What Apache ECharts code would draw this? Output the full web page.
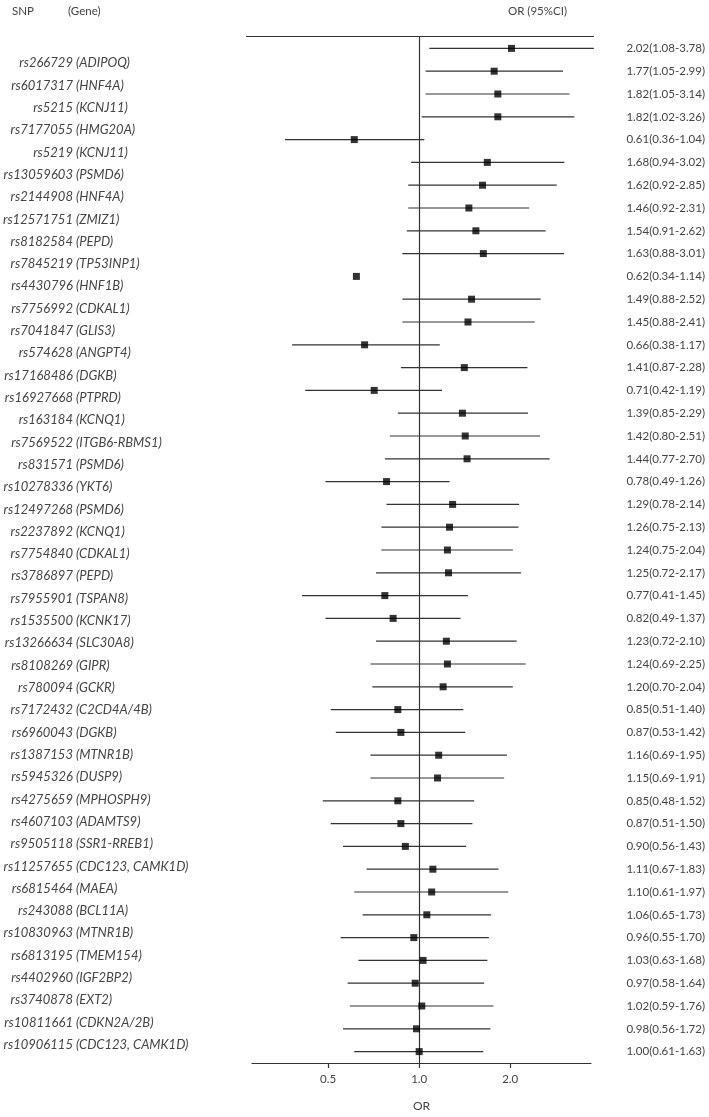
<!DOCTYPE html>
<html>
<head>
<meta charset="utf-8">
<title>SNP forest plot</title>
<script src="https://cdn.jsdelivr.net/npm/echarts@6/dist/echarts.min.js"></script>
<style>
  html, body { margin: 0; padding: 0; background: #fff; }
  #chart { width: 709px; height: 1117px; }
</style>
</head>
<body>
<div id="chart"></div>
<script>
  // rows, top to bottom
  const snpIds = [
    'rs266729', 'rs6017317', 'rs5215', 'rs7177055', 'rs5219', 'rs13059603', 'rs2144908', 'rs12571751',
    'rs8182584', 'rs7845219', 'rs4430796', 'rs7756992', 'rs7041847', 'rs574628', 'rs17168486', 'rs16927668',
    'rs163184', 'rs7569522', 'rs831571', 'rs10278336', 'rs12497268', 'rs2237892', 'rs7754840', 'rs3786897',
    'rs7955901', 'rs1535500', 'rs13266634', 'rs8108269', 'rs780094', 'rs7172432', 'rs6960043', 'rs1387153',
    'rs5945326', 'rs4275659', 'rs4607103', 'rs9505118', 'rs11257655', 'rs6815464', 'rs243088', 'rs10830963',
    'rs6813195', 'rs4402960', 'rs3740878', 'rs10811661', 'rs10906115'
  ]
  const genes = [
    'ADIPOQ', 'HNF4A', 'KCNJ11', 'HMG20A', 'KCNJ11', 'PSMD6', 'HNF4A', 'ZMIZ1',
    'PEPD', 'TP53INP1', 'HNF1B', 'CDKAL1', 'GLIS3', 'ANGPT4', 'DGKB', 'PTPRD',
    'KCNQ1', 'ITGB6-RBMS1', 'PSMD6', 'YKT6', 'PSMD6', 'KCNQ1', 'CDKAL1', 'PEPD',
    'TSPAN8', 'KCNK17', 'SLC30A8', 'GIPR', 'GCKR', 'C2CD4A/4B', 'DGKB', 'MTNR1B',
    'DUSP9', 'MPHOSPH9', 'ADAMTS9', 'SSR1-RREB1', 'CDC123, CAMK1D', 'MAEA', 'BCL11A', 'MTNR1B',
    'TMEM154', 'IGF2BP2', 'EXT2', 'CDKN2A/2B', 'CDC123, CAMK1D'
  ]
  const orValues = [
    2.02, 1.77, 1.82, 1.82, 0.61, 1.68, 1.62, 1.46,
    1.54, 1.63, 0.62, 1.49, 1.45, 0.66, 1.41, 0.71,
    1.39, 1.42, 1.44, 0.78, 1.29, 1.26, 1.24, 1.25,
    0.77, 0.82, 1.23, 1.24, 1.20, 0.85, 0.87, 1.16,
    1.15, 0.85, 0.87, 0.90, 1.11, 1.10, 1.06, 0.96,
    1.03, 0.97, 1.02, 0.98, 1.00
  ]
  const ciLow = [
    1.08, 1.05, 1.05, 1.02, 0.36, 0.94, 0.92, 0.92,
    0.91, 0.88, 0.34, 0.88, 0.88, 0.38, 0.87, 0.42,
    0.85, 0.80, 0.77, 0.49, 0.78, 0.75, 0.75, 0.72,
    0.41, 0.49, 0.72, 0.69, 0.70, 0.51, 0.53, 0.69,
    0.69, 0.48, 0.51, 0.56, 0.67, 0.61, 0.65, 0.55,
    0.63, 0.58, 0.59, 0.56, 0.61
  ]
  const ciHigh = [
    3.78, 2.99, 3.14, 3.26, 1.04, 3.02, 2.85, 2.31,
    2.62, 3.01, 1.14, 2.52, 2.41, 1.17, 2.28, 1.19,
    2.29, 2.51, 2.70, 1.26, 2.14, 2.13, 2.04, 2.17,
    1.45, 1.37, 2.10, 2.25, 2.04, 1.40, 1.42, 1.95,
    1.91, 1.52, 1.50, 1.43, 1.83, 1.97, 1.73, 1.70,
    1.68, 1.64, 1.76, 1.72, 1.63
  ]
  // the original figure draws no whisker for this row
  const noWhisker = ['rs4430796']
  const xTicks = [0.5, 1.0, 2.0]

  const chart = echarts.init(document.getElementById('chart'))
  const textColor = '#444'
  const lineColor = '#333'
  const fontFamily = 'Lato, "Open Sans", sans-serif'

  const orLabels = orValues.map((v, i) => `${v.toFixed(2)}(${ciLow[i].toFixed(2)}-${ciHigh[i].toFixed(2)})`)
  const whiskerData = []
  snpIds.forEach((id, i) => {
    if (noWhisker.indexOf(id) < 0) whiskerData.push([ciLow[i], ciHigh[i], i])
  })

  const hiddenCat = {
    axisLine: { show: false },
    axisTick: { show: false },
    splitLine: { show: false }
  }

  const option = {
    animation: false,
    backgroundColor: '#fff',
    textStyle: { fontFamily: fontFamily, color: textColor },
    grid: [
      { left: 252, right: 118, top: 37, height: 1035 },
      // label column on the left
      { left: 70, width: 60, top: 52, height: 1004 }
    ],
    xAxis: [
      {
        type: 'log',
        logBase: 2,
        gridIndex: 0,
        min: 0.28,
        max: 3.7,
        name: 'OR',
        nameLocation: 'middle',
        nameGap: 37,
        nameTextStyle: { fontSize: 12, color: textColor },
        axisLine: { show: true, onZero: false, lineStyle: { color: lineColor, width: 1.2 } },
        axisTick: { show: true, customValues: xTicks, length: 5, lineStyle: { color: lineColor, width: 1.2 } },
        axisLabel: {
          customValues: xTicks,
          formatter: v => Number(v).toFixed(1),
          margin: 10,
          fontSize: 11.5,
          color: textColor
        },
        splitLine: { show: false },
        minorTick: { show: false }
      },
      { type: 'value', gridIndex: 1, show: false }
    ],
    yAxis: [
      Object.assign({ type: 'category', gridIndex: 0, data: snpIds, inverse: true, axisLabel: { show: false } }, hiddenCat),
      Object.assign({
        type: 'category', gridIndex: 0, position: 'right', data: orLabels, inverse: true,
        axisLabel: { interval: 0, margin: 114, align: 'right', fontSize: 11.5, color: textColor }
      }, hiddenCat),
      Object.assign({
        type: 'category', gridIndex: 1, position: 'left', data: snpIds, inverse: true,
        axisLabel: { interval: 0, margin: 0, fontSize: 13, fontStyle: 'italic', color: textColor }
      }, hiddenCat),
      Object.assign({
        type: 'category', gridIndex: 1, position: 'left', data: genes.map(g => '(' + g + ')'), inverse: true,
        axisLabel: { interval: 0, inside: true, margin: 3, fontSize: 13, fontStyle: 'italic', color: textColor }
      }, hiddenCat)
    ],
    graphic: [
      { type: 'line', shape: { x1: 246, y1: 36.5, x2: 594, y2: 36.5 }, style: { stroke: lineColor, lineWidth: 1.2 } },
      { type: 'text', left: 12, top: 5, style: { text: 'SNP', font: '11.5px ' + fontFamily, fill: textColor } },
      { type: 'text', left: 68, top: 5, style: { text: '(Gene)', font: '11.5px ' + fontFamily, fill: textColor } },
      { type: 'text', left: 508, top: 5, style: { text: 'OR (95%CI)', font: '11.5px ' + fontFamily, fill: textColor } }
    ],
    series: [
      {
        type: 'custom',
        xAxisIndex: 0,
        yAxisIndex: 0,
        encode: { x: [0, 1], y: 2 },
        data: whiskerData,
        renderItem: (params, api) => {
          const start = api.coord([api.value(0), api.value(2)])
          const end = api.coord([api.value(1), api.value(2)])
          return {
            type: 'line',
            shape: { x1: start[0], y1: start[1], x2: end[0], y2: end[1] },
            style: { stroke: lineColor, lineWidth: 1.2 }
          }
        }
      },
      {
        type: 'scatter',
        xAxisIndex: 0,
        yAxisIndex: 0,
        symbol: 'rect',
        symbolSize: 7,
        itemStyle: { color: '#000' },
        z: 5,
        data: orValues.map((v, i) => [v, i]),
        markLine: {
          silent: true,
          symbol: 'none',
          label: { show: false },
          lineStyle: { color: lineColor, width: 1.2, type: 'solid' },
          data: [{ xAxis: 1 }]
        }
      }
    ]
  }

  chart.setOption(option)
</script>
</body>
</html>
